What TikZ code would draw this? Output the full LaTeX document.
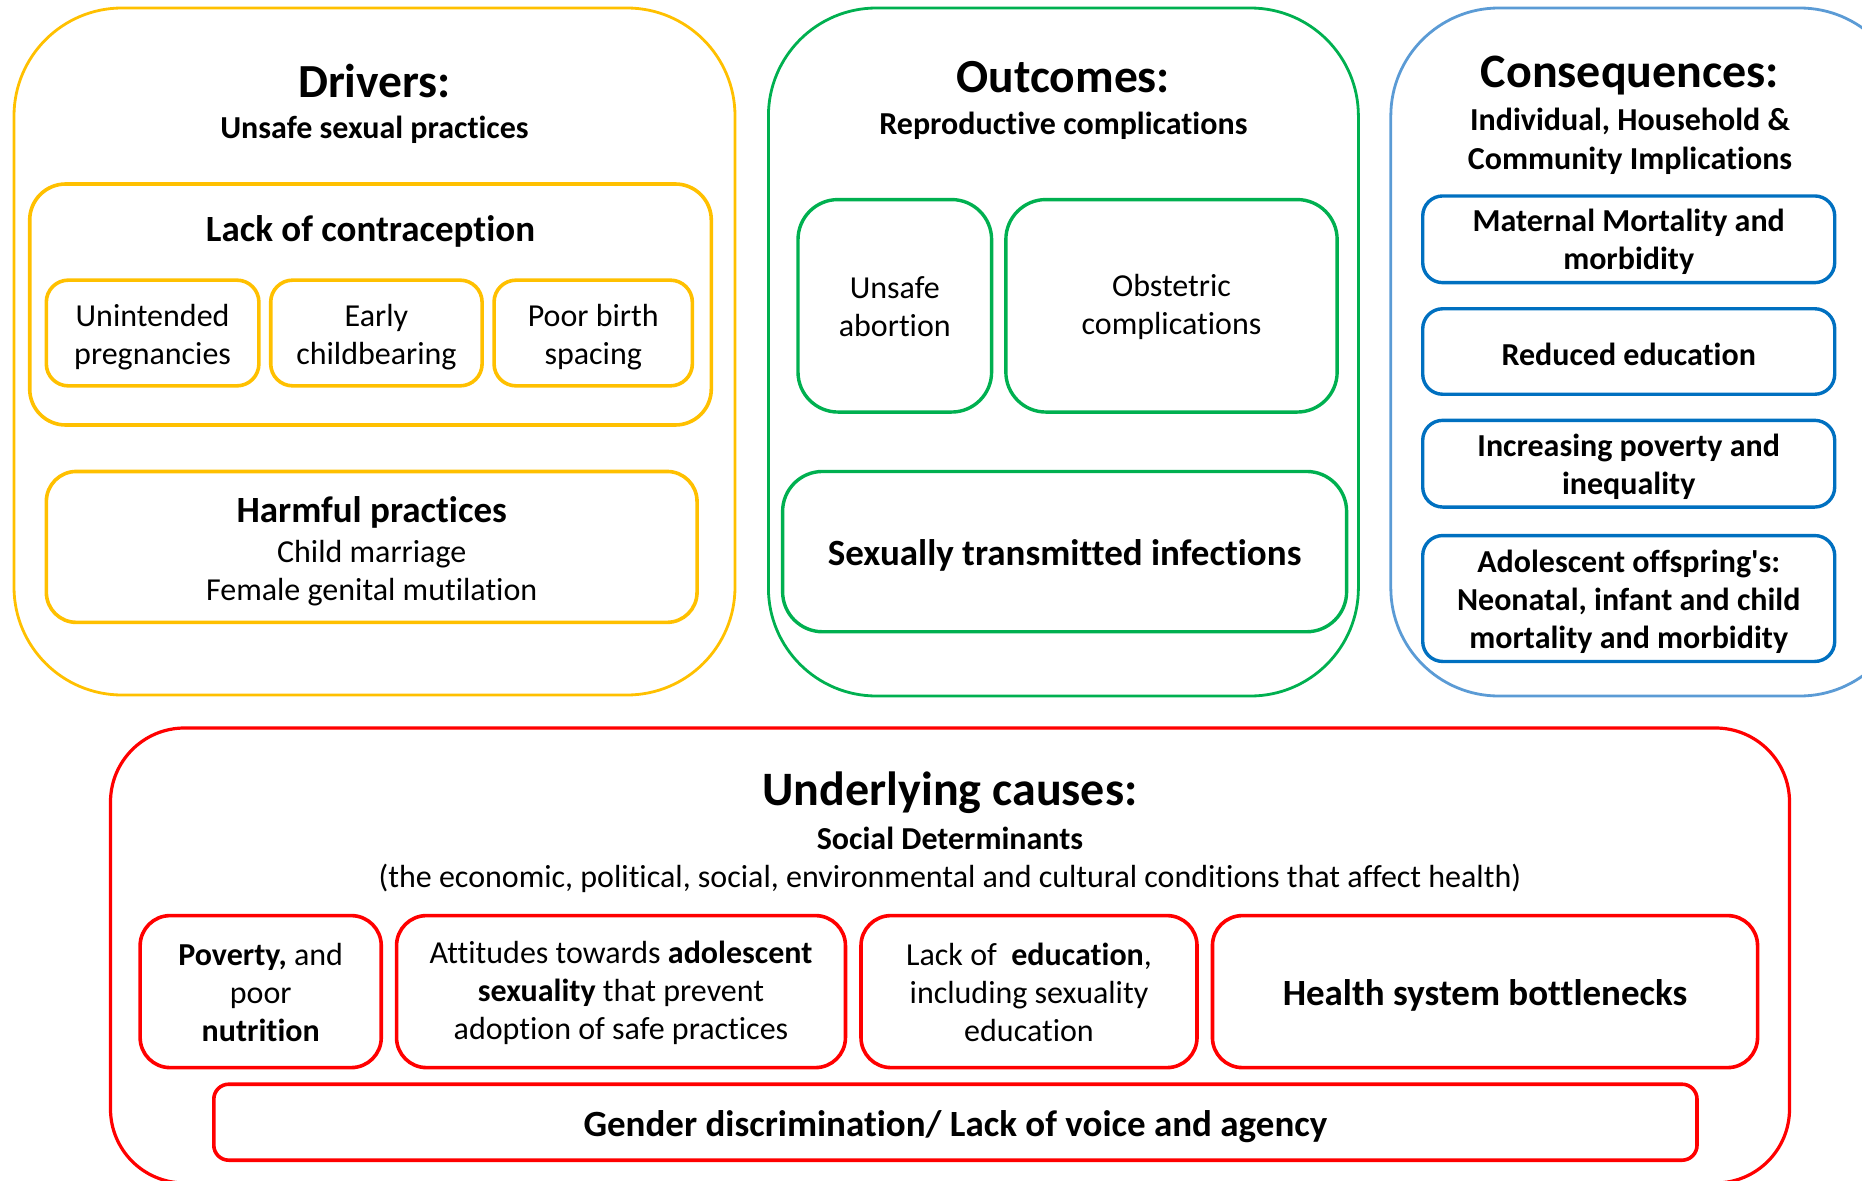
\documentclass[tikz,border=0pt]{standalone}
\usepackage{fontspec}
\setmainfont{Carlito}[Ligatures={TeX,NoCommon}]
\definecolor{cgold}{HTML}{FFC000}
\definecolor{cgreen}{HTML}{00B050}
\definecolor{clblue}{HTML}{5B9BD5}
\definecolor{cdblue}{HTML}{0070C0}
\definecolor{cred}{HTML}{FF0000}
\newcommand{\myBig}{\fontsize{47.5}{56}\selectfont\bfseries}
\newcommand{\myMid}{\fontsize{37}{44}\selectfont\bfseries}
\newcommand{\myReg}{\fontsize{32}{38}\selectfont}
\newcommand{\mySubB}{\fontsize{32}{38}\selectfont\bfseries}
\begin{document}
\begin{tikzpicture}[x=1pt,y=-1pt,
  box/.style={draw, rectangle, inner sep=0pt},
  txt/.style={inner sep=0pt, align=center, text=black},
  outerbox/.style={box, line width=2.8pt, rounded corners=108pt},
  ybox/.style={box, draw=cgold, line width=3.6pt, rounded corners=22pt},
  gbox/.style={box, draw=cgreen, line width=3.4pt, rounded corners=40pt},
  bbox/.style={box, draw=cdblue, line width=3.4pt, rounded corners=20pt},
  rbox/.style={box, draw=cred, line width=3.6pt, rounded corners=30pt},
  ttl/.style={anchor=base, inner sep=0pt, text=black}
]
\useasboundingbox (0,0) rectangle (1862,1180);
\clip (0,0) rectangle (1862,1180);

% ---------- Drivers ----------
\node[outerbox, draw=cgold, minimum width=721pt, minimum height=687pt] (drv) at (374.5,351.5) {};
\node[ttl, font=\myBig] (drvT) at (374.5,98) {Drivers:};
\node[ttl, font=\mySubB] (drvS) at (374.5,139) {Unsafe sexual practices};
\node[ybox, rounded corners=36pt, minimum width=681.6pt, minimum height=241pt] (loc) at (370.5,304.5) {};
\node[ttl, font=\myMid] (locT) at (370.5,241.5) {Lack of contraception};
\node[ybox, minimum width=212.6pt, minimum height=105.7pt] (unint) at (152.6,333) {};
\node[txt, font=\myReg] at ([yshift=-4pt]unint.center) {Unintended\\pregnancies};
\node[ybox, minimum width=211.4pt, minimum height=105.7pt] (early) at (376.4,333) {};
\node[txt, font=\myReg] at ([yshift=-4pt]early.center) {Early\\childbearing};
\node[ybox, minimum width=198.3pt, minimum height=105.7pt] (poor) at (593.2,333) {};
\node[txt, font=\myReg] at ([yshift=-4pt]poor.center) {Poor birth\\spacing};
\node[ybox, rounded corners=30pt, minimum width=650.7pt, minimum height=150.9pt] (harm) at (371.7,546.9) {};
\node[txt, font=\myReg] at ([yshift=-4pt]harm.center)
  {{\myMid Harmful practices}\\[2pt]Child marriage\\Female genital mutilation};

% ---------- Outcomes ----------
\node[outerbox, draw=cgreen, minimum width=590pt, minimum height=688pt] (out) at (1063.4,352) {};
\node[ttl, font=\myBig] (outT) at (1063.4,93) {Outcomes:};
\node[ttl, font=\mySubB] (outS) at (1063.4,135) {Reproductive complications};
\node[gbox, minimum width=193.6pt, minimum height=212.5pt] (abort) at (894.8,305.8) {};
\node[txt, font=\myReg] at ([yshift=-1pt]abort.center) {Unsafe\\abortion};
\node[gbox, minimum width=331.3pt, minimum height=212.5pt] (obst) at (1171.5,305.8) {};
\node[txt, font=\myReg] at ([yshift=-1pt]obst.center) {Obstetric\\complications};
\node[gbox, minimum width=564pt, minimum height=160.3pt] (sti) at (1064.6,551.6) {};
\node[txt, font=\myMid] at ([yshift=-4pt]sti.center) {Sexually transmitted infections};

% ---------- Consequences ----------
\node[outerbox, draw=clblue, minimum width=517pt, minimum height=688pt] (cons) at (1649.3,352) {};
\node[ttl, font={\fontsize{48}{56}\selectfont\bfseries}] (consT) at (1630,88) {Consequences:};
\node[ttl, font=\mySubB] (consS1) at (1630,131) {Individual, Household \&};
\node[ttl, font=\mySubB] (consS2) at (1630,169) {Community Implications};
\node[bbox, minimum width=412pt, minimum height=86.7pt] (mat) at (1628.7,239.3) {};
\node[txt, font=\mySubB] at ([yshift=-2pt]mat.center) {Maternal Mortality and\\morbidity};
\node[bbox, minimum width=412pt, minimum height=85.5pt] (red) at (1628.7,351.5) {};
\node[txt, font=\mySubB] at ([yshift=-3pt]red.center) {Reduced education};
\node[bbox, minimum width=412pt, minimum height=86.7pt] (pov) at (1628.7,463.7) {};
\node[txt, font=\mySubB] at ([yshift=-3pt]pov.center) {Increasing poverty and\\inequality};
\node[bbox, minimum width=412pt, minimum height=125.9pt] (ado) at (1628.7,598.5) {};
\node[txt, font=\mySubB] at ([yshift=-3pt]ado.center) {Adolescent offspring\textquotesingle s:\\Neonatal, infant and child\\mortality and morbidity};

% ---------- Underlying causes ----------
\node[outerbox, draw=cred, line width=3.2pt, rounded corners=74pt, minimum width=1679pt, minimum height=455pt] (und) at (950,955.5) {};
\node[ttl, font={\fontsize{48}{56}\selectfont\bfseries}] (undT) at (950,805) {Underlying causes:};
\node[ttl, font=\mySubB] (undS) at (950,849) {Social Determinants};
\node[ttl, font=\myReg] (undD) at (950,887) {(the economic, political, social, environmental and cultural conditions that affect health)};
\node[rbox, minimum width=241.1pt, minimum height=152pt] (povn) at (260.7,991.6) {};
\node[txt, font=\myReg] at ([yshift=-1pt]povn.center) {\textbf{Poverty,} and\\poor\\\textbf{nutrition}};
\node[rbox, minimum width=448.9pt, minimum height=152pt] (att) at (621,991.6) {};
\node[txt, font=\myReg] at ([yshift=-1pt]att.center) {Attitudes towards \textbf{adolescent}\\\textbf{sexuality} that prevent\\adoption of safe practices};
\node[rbox, minimum width=336pt, minimum height=152pt] (edu) at (1029,991.6) {};
\node[txt, font=\myReg] at ([yshift=-1pt]edu.center) {Lack of\ \ \textbf{education},\\including sexuality\\education};
\node[rbox, minimum width=545.1pt, minimum height=152pt] (hsb) at (1485,991.6) {};
\node[txt, font=\myMid] at ([yshift=-4pt]hsb.center) {Health system bottlenecks};
\node[rbox, rounded corners=15pt, minimum width=1483.2pt, minimum height=76pt] (gen) at (955.4,1122.2) {};
\node[txt, font=\myMid] at ([yshift=-4pt]gen.center) {Gender discrimination/ Lack of voice and agency};
\end{tikzpicture}
\end{document}
